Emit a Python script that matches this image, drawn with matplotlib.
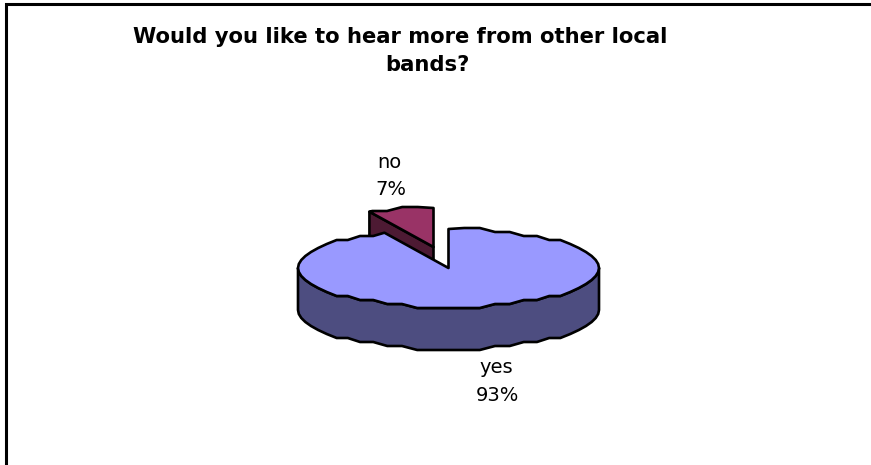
import numpy as np
import matplotlib
matplotlib.use("Agg")
import matplotlib.pyplot as plt

title_lines = ["Would you like to hear more from other local", "bands?"]
categories = ["yes", "no"]
shares = [93, 7]

W, H = 871, 465
cx, cy = 448.5, 268
rx, ry = 150.5, 39
depth = 42
explode = (-15, -21)
step = 6.0  # coarse ellipse segments
snap_y = 4.0  # rim is stepped, like low resolution chart output


def rim(a0, a1, dx=0, dy=0):
    # angles are clockwise from 12 o'clock, in degrees
    inner = np.arange(np.floor(a0 / step) + 1, np.ceil(a1 / step)) * step
    y_inner = np.round(-ry * np.cos(np.radians(inner)) / snap_y) * snap_y
    t = np.radians(np.concatenate([[a0], inner, [a1]]))
    y = np.concatenate([[-ry * np.cos(t[0])], y_inner, [-ry * np.cos(t[-1])]])
    return np.column_stack([cx + dx + rx * np.sin(t), cy + dy + y])


def draw_slice(ax, a0, a1, top, side, dx=0, dy=0, cut_face=False):
    apex = np.array([[cx + dx, cy + dy]])
    down = np.array([0, depth])
    lw = 1.9

    # front wall, only where the rim faces the viewer
    lo, hi = max(a0, 90), min(a1, 270)
    if hi > lo:
        front = rim(lo, hi, dx, dy)
        wall = np.vstack([front, (front + down)[::-1]])
        ax.fill(wall[:, 0], wall[:, 1], fc=side, ec="black", lw=lw, joinstyle="round")

    # inner face along the starting edge of the slice
    if cut_face:
        edge = rim(a0, a0 + step, dx, dy)[0]
        face = np.vstack([apex, [edge], [edge + down], apex + down])
        ax.fill(face[:, 0], face[:, 1], fc=side, ec="black", lw=lw, joinstyle="round")

    surf = np.vstack([apex, rim(a0, a1, dx, dy)])
    ax.fill(surf[:, 0], surf[:, 1], fc=top, ec="black", lw=lw, joinstyle="round")


fig = plt.figure(figsize=(W / 100, H / 100), dpi=100)
ax = fig.add_axes([0, 0, 1, 1])
ax.set_xlim(0, W)
ax.set_ylim(H, 0)
ax.axis("off")

# outer chart border, open on the right and at the bottom
ax.plot([5.5, 5.5, W + 5], [H + 5, 4.3, 4.3], color="black", lw=2.2, solid_joinstyle="miter")

yes_angle = shares[0] / sum(shares) * 360
draw_slice(ax, yes_angle, 360, "#993366", "#4D1A33", *explode, cut_face=True)

# the big slice goes on top of the exploded one
draw_slice(ax, 0, yes_angle, "#9999FF", "#4D4D80")

font = "DejaVu Sans"
ax.text(400.5, 37, title_lines[0], ha="center", va="center", fontsize=15.2, fontweight="bold", family=font)
ax.text(427, 65, title_lines[1], ha="center", va="center", fontsize=15.2, fontweight="bold", family=font)

ax.text(389, 162, categories[1], ha="center", va="center", fontsize=14, family=font)
ax.text(391, 189, f"{shares[1]}%", ha="center", va="center", fontsize=14, family=font)
ax.text(496, 367, categories[0], ha="center", va="center", fontsize=14, family=font)
ax.text(497, 395, f"{shares[0]}%", ha="center", va="center", fontsize=14, family=font)

fig.savefig("out.png", dpi=100)
